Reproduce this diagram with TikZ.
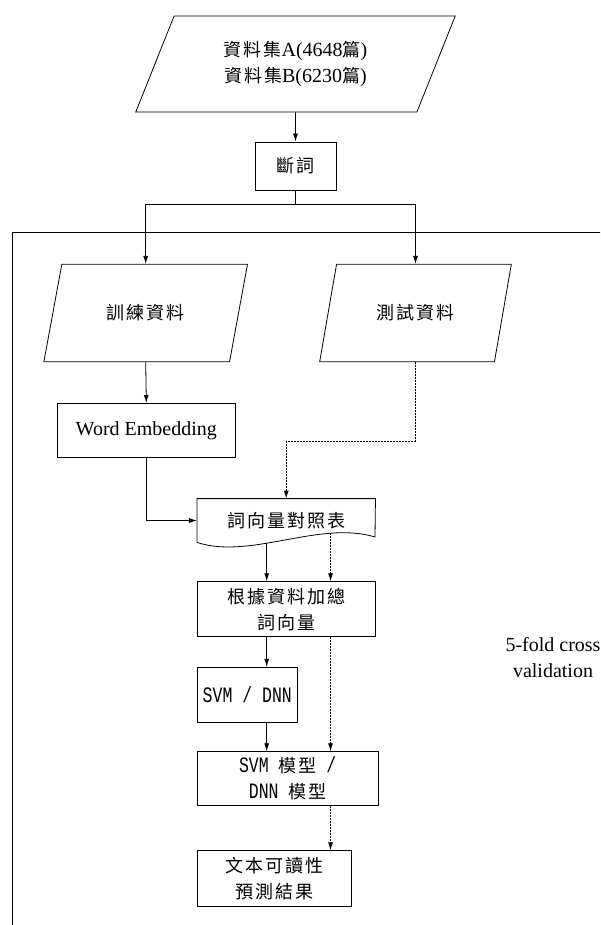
\documentclass[tikz,border=0pt]{standalone}
\usepackage{fontspec}
\setmainfont{Liberation Serif}
\newfontfamily\cjk[Scale=0.9,LetterSpace=11]{Noto Sans CJK TC}
\newfontfamily\mono[Scale=1.1,FakeStretch=0.75]{Liberation Mono}
\usetikzlibrary{shapes.geometric,arrows.meta}
\begin{document}
\begin{tikzpicture}[x=1pt,y=-1pt,line width=0.8pt,
    font=\fontsize{20}{26}\selectfont,
    box/.style={draw, rectangle, inner sep=0pt, align=center},
    io/.style={draw, trapezium, trapezium left angle=63.5, trapezium right angle=116.5,
      trapezium stretches=true, inner sep=0pt, align=center},
    arr/.style={-{Latex[length=8pt,width=5pt]}},
    dsh/.style={dash pattern=on 2pt off 1pt}]
    \useasboundingbox (0,0) rectangle (600,925);
    \clip (0,0) rectangle (600,925);

    % outer frame of the cross validation
    \draw (12.7,960) -- (12.7,232.3) -- (640,232.3);
    \node[align=center] (cv) at (553,658) {5-fold cross\\validation};

    \node[io, minimum width=320pt, minimum height=96pt] (data) at (295.5,64)
      {{\cjk 資料集}A(4648{\cjk 篇})\\{\cjk 資料集}B(6230{\cjk 篇})};
    \node[box, minimum width=81pt, minimum height=48pt] (seg) at (295.5,166) {\cjk 斷詞};

    \node[io, minimum width=205pt, minimum height=97.4pt] (train) at (145.7,313) {\cjk 訓練資料};
    \node[io, minimum width=193pt, minimum height=97.4pt] (test) at (415.5,313) {\cjk 測試資料};

    \node[box, minimum width=177.3pt, minimum height=54pt] (we) at (146.3,430.4) {Word Embedding};

    % document shape with wavy bottom
    \node[inner sep=0pt, minimum width=177.7pt, minimum height=43pt] (lookup) at (286.2,520.5) {\cjk 詞向量對照表};
    \draw (lookup.south west) .. controls (250,560) and (320,520) .. (375,537)
      coordinate[pos=0.4] (wa) coordinate[pos=0.745] (wb)
      -- (lookup.north east) -- (lookup.north west) -- cycle;

    \node[box, minimum width=177.7pt, minimum height=55pt] (sum) at (286.2,609.2)
      {\cjk 根據資料加總\\\cjk 詞向量};
    \node[box, minimum width=100pt, minimum height=55.4pt] (svm) at (247.3,695) {\mono SVM / DNN};
    \node[box, minimum width=180.7pt, minimum height=54pt] (model) at (287.7,778.7)
      {{\mono SVM }{\cjk 模型}{\mono{} /}\\{\mono DNN }{\cjk 模型}};
    \node[box, minimum width=154.4pt, minimum height=56pt] (result) at (274.5,878.7)
      {\cjk 文本可讀性\\\cjk 預測結果};

    \coordinate (split) at (295.5,204);
    \coordinate (tturn) at (415.5,441.7);

    \draw[arr] (data.south) -- (seg.north);
    \draw (seg.south) -- (split);
    \draw[arr] (split) -| (train.north);
    \draw[arr] (split) -| (test.north);
    \draw[arr] (train.south) -- (we.north);
    \draw[arr] (we.south) |- (lookup.west);
    \draw[dsh] (test.south) -- (tturn);
    \draw[dsh,arr] (tturn) -| (lookup.north);

    \draw[arr] (wa) -- (sum.north -| wa);
    \draw[dsh,arr] (wb) -- (sum.north -| wb);
    \draw[arr] (sum.south -| wa) -- (svm.north -| wa);
    \draw[dsh,arr] (sum.south -| wb) -- (model.north -| wb);
    \draw[arr] (svm.south -| wa) -- (model.north -| wa);
    \draw[dsh,arr] (model.south -| wb) -- (result.north -| wb);
\end{tikzpicture}
\end{document}
